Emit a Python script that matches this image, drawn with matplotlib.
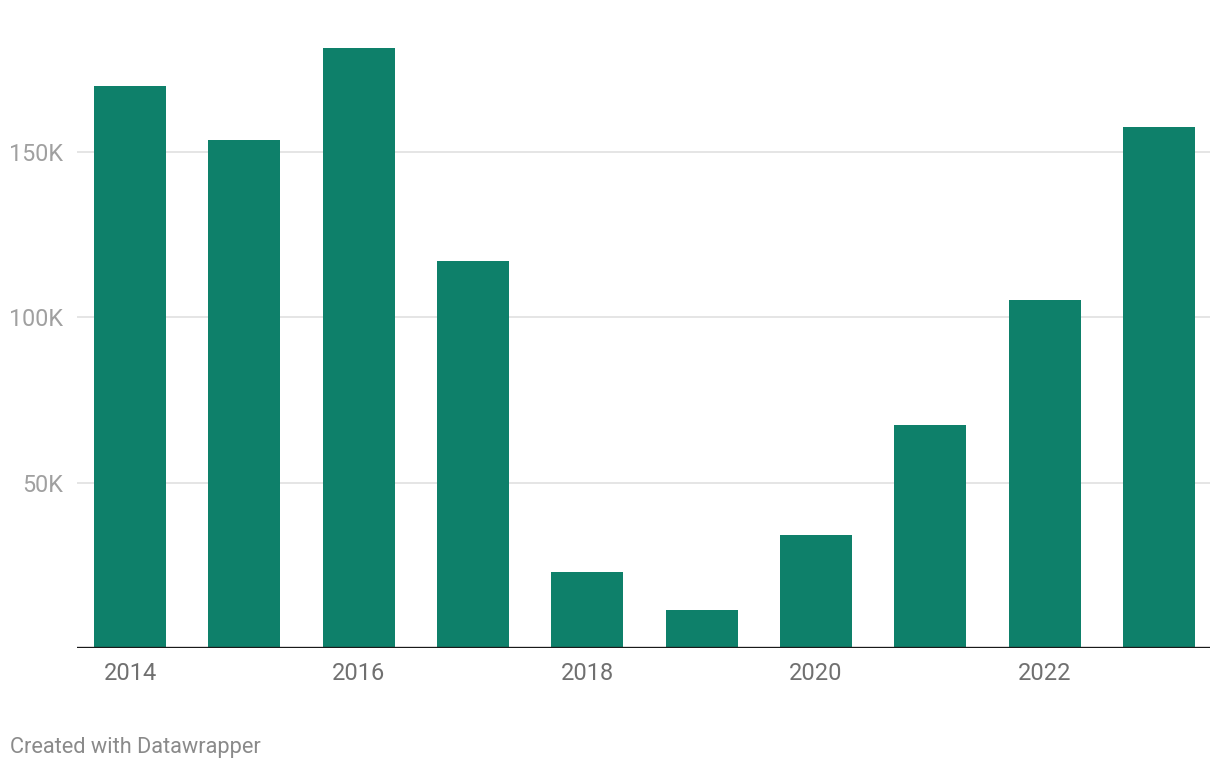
import numpy as np
import matplotlib.pyplot as plt

years = ['2014', '2015', '2016', '2017', '2018', '2019', '2020', '2021', '2022', '2023']
values = [170000, 153600, 181400, 117000, 23000, 11500, 34200, 67400, 105200, 157500]
y_ticks = [50000, 100000, 150000]
y_labels = ['50K', '100K', '150K']

plt.rcParams['font.family'] = ['Roboto', 'DejaVu Sans']

fig = plt.figure(figsize=(12.2, 7.7), dpi=100)
ax = fig.add_axes([77/1220, 122/770, (1210-77)/1220, 612/770])

x = np.arange(len(years))
ax.bar(x, values, width=0.63, color='#0e806a', zorder=2)

ax.set_xlim(-0.464, 9.446)
ax.set_ylim(0, 185000)

for t in y_ticks:
    ax.axhline(t, color='#e3e3e3', lw=1.3, zorder=1)
ax.axhline(0, color='#1a1a1a', lw=2.4, zorder=3)

ax.set_yticks(y_ticks)
ax.set_yticklabels(y_labels)
ax.tick_params(axis='y', length=0, pad=10, labelsize=16.8, labelcolor='#a0a0a0')

ax.set_xticks(x[::2])
ax.set_xticklabels(years[::2])
ax.tick_params(axis='x', length=0, pad=10, labelsize=17, labelcolor='#707070')

for s in ax.spines.values():
    s.set_visible(False)

fig.text(10/1220, 1 - 748/770, 'Created with Datawrapper', fontsize=15.7,
         color='#8a8a8a', va='center', ha='left')

fig.savefig('out.png', dpi=100, facecolor='white')
